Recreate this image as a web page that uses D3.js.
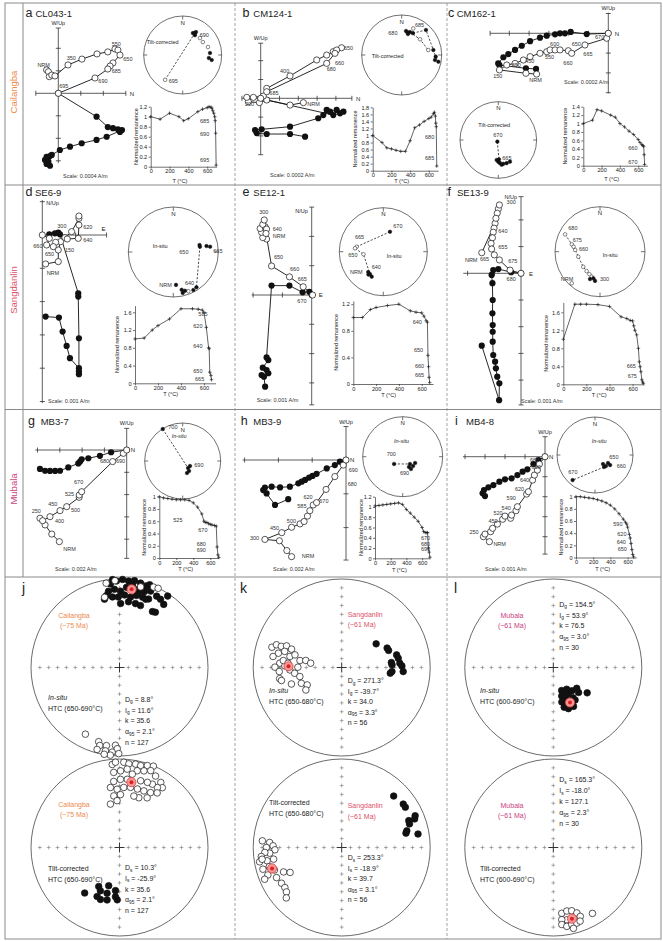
<!DOCTYPE html>
<html>
<head>
<meta charset="utf-8">
<script src="https://cdn.jsdelivr.net/npm/d3@7/dist/d3.min.js"></script>
<style>
html,body{margin:0;padding:0;background:#fff;}
svg{display:block;}
text{font-family:"Liberation Sans",Arial,Helvetica,sans-serif;}
</style>
</head>
<body>
<svg id="fig" width="663" height="941"></svg>
<script>
// ================= DATA =================
const regions = ["Cailangba", "Sangdanlin", "Mubala"];
const regionAges = ["(~75 Ma)", "(~61 Ma)", "(~61 Ma)"];
const sampleNames = ["CL043-1","CM124-1","CM162-1","SE6-9","SE12-1","SE13-9","MB3-7","MB3-9","MB4-8"];
const scaleValues = ["0.0004","0.0002","0.0002","0.001","0.001","0.001","0.002","0.002","0.001"];
const tempTicks = [0, 200, 400, 600];

// --- panel a ---
const aZijOpen = [[-0.52,1.04],[-0.44,0.96],[-0.40,0.74],[-0.29,0.81],[-0.15,0.77],[0.43,1.26],[1.05,1.52],[1.72,1.75],[2.20,1.84],[2.52,1.97],[2.65,1.92],[2.74,1.70],[2.43,1.35],[2.30,1.21],[2.20,1.08],[1.63,0.68],[0,0]];
const aZijFilled = [[-0.37,-3.22],[-0.52,-3.14],[-0.44,-3.04],[-0.59,-2.96],[-0.37,-2.79],[-0.52,-2.82],[-0.29,-2.74],[0.07,-2.52],[0.52,-2.37],[1.04,-2.22],[1.70,-2.07],[2.15,-1.93],[2.83,-1.63],[2.74,-1.72],[2.65,-1.60],[2.43,-1.55],[2.20,-1.50],[1.70,-1.04],[0,0]];
const aZijLbl = [["NRM",-0.93,1.17],["350",0.37,1.48],["550",2.37,2.12],["650",2.89,1.44],["685",2.37,0.90],["690",1.78,0.44],["695",0.04,0.24]];
const aNet = [[25,38],[30,32.5],[31.6,40],[29,36],[45.5,-38],[57.4,-38.5],[72.5,-32.5],[85.8,30.5],[96.5,33],[99.7,25.5],[215.3,-23]];
const aNetLines = [[[29,36],[215.3,-23]]];
const aNetLbl = [["690",17,-18],["695",-14,28]];
const aDemagT = [0,100,200,300,350,400,500,550,600,620,640,650,660,670,680,685,690,695];
const aDemagM = [1.0,0.95,1.07,1.0,0.92,0.96,1.1,1.15,1.18,1.2,1.19,1.17,1.12,1.07,1.0,0.92,0.67,0.03];
const aDemagLbl = [["685",524,0.88],["690",524,0.61],["695",524,0.1]];

// --- panel b ---
const bZijOpen = [[2.27,-0.23],[1.56,-0.36],[0.32,-0.09],[-0.07,-0.23],[-0.66,-0.18],[-0.74,0.05],[-0.39,0.05],[0.14,0.12],[0.32,0.53],[1.56,1.19],[2.98,2.04],[3.51,2.30],[3.86,2.48],[4.30,2.69],[4.04,2.57],[3.95,2.39],[3.51,1.86],[0.32,0.35],[0,0]];
const bZijFilled = [[2.36,-2.04],[1.56,-1.90],[0.32,-1.90],[-0.21,-1.86],[-0.30,-1.69],[0.05,-1.65],[1.56,-1.51],[3.06,-1.06],[3.33,-0.89],[3.51,-0.62],[3.69,-0.71],[4.04,-0.62],[4.40,-0.71],[4.22,-0.80],[3.86,-0.89],[0.32,-0.09],[0,0]];
const bZijLbl = [["400",1.03,1.36],["650",4.43,2.55],["660",3.95,1.79],["680",3.51,1.45],["685",0.46,0.16],["200",-0.84,-0.43],["NRM",2.48,-0.41]];
const bNet = [[10.2,39],[19.8,39],[27.2,38.5],[16.7,44.5],[14,41],[23.5,-28.5],[44.2,14],[49.4,-39.5],[79.4,-33],[81,21],[92.8,16],[98.5,17],[100.4,7.5]];
const bNetLines = [[[19.8,39],[49.4,-39.5],[79.4,-33]],[[27.2,38.5],[44.2,14],[81,21],[92.8,16],[100.4,7.5]]];
const bNetLbl = [["680",-13.4,-20],["685",13.3,-28]];
const bDemagT = [0,100,150,200,250,300,350,400,450,500,550,600,625,650,660,670,675,680,685];
const bDemagM = [1.0,0.8,0.65,0.62,0.58,0.55,0.55,0.85,1.22,1.3,1.4,1.48,1.52,1.62,1.66,1.55,1.35,1.25,0.13];
const bDemagLbl = [["680",560,0.9],["685",560,0.31]];

// --- panel c ---
const cZijOpen = [[-3.62,-2.06],[-4.16,-2.02],[-5.50,-1.85],[-5.13,-1.60],[-4.71,-1.52],[-4.29,-1.35],[-3.95,-1.18],[-3.45,-1.01],[-3.11,-0.93],[-2.94,-0.84],[-2.69,-0.84],[-2.44,-0.84],[-2.02,-0.88],[-1.85,-1.01],[-1.18,-0.59],[-0.08,-0.25],[0,0]];
const cZijFilled = [[-3.65,-1.80],[-4.16,-1.77],[-5.50,-1.60],[-5.56,-1.52],[-5.30,-1.21],[-5.05,-1.05],[-4.71,-0.84],[-4.37,-0.63],[-3.95,-0.40],[-3.45,-0.22],[-3.11,-0.12],[-2.69,-0.05],[-2.44,0],[-2.19,0],[-1.90,0.07],[-1.09,-0.04],[0,0]];
const cZijLbl = [["600",-2.94,-0.64],["650",-1.85,-0.64],["670",-0.67,-0.31],["665",-1.26,-1.15],["660",-2.27,-1.58],["550",-3.20,-1.32],["450",-4.20,-1.50],["350",-4.88,-1.68],["150",-5.81,-2.26],["NRM",-3.99,-2.48]];
const cNet = [[210,86],[180,42.5],[175.8,39.3],[168.2,36.5],[160.2,36],[151.7,36],[184.6,46.5],[172.3,35],[178,48]];
const cNetLines = [[[210,86],[178,48]]];
const cNetLbl = [["670",-5,-3],["665",4,20]];
const cDemagT = [0,100,150,200,300,350,400,450,500,550,600,620,640,650,660,665,670];
const cDemagM = [1.0,1.08,1.33,1.3,1.2,1.15,1.0,0.92,0.82,0.74,0.62,0.55,0.5,0.48,0.46,0.26,0.03];
const cDemagLbl = [["660",492,0.37],["670",492,0.03]];

// --- panel d ---
const dZijOpen = [[0.10,-0.87],[0.48,-0.80],[0.48,-0.45],[0.55,-0.20],[0.68,-0.08],[0.88,0.10],[1.10,0.50],[1.10,0.57],[1.10,0.30],[1.08,-0.10],[0.75,-0.12],[0.40,-0.22],[0.33,-0.35],[0.13,-0.30],[0.21,-0.10],[0,0]];
const dZijFilled = [[0.10,-2.45],[0.50,-2.48],[0.61,-2.90],[0.73,-3.33],[0.83,-3.70],[1.10,-4.00],[1.10,-4.10],[1.10,-4.18],[1.10,-3.10],[1.08,-1.85],[1.08,-1.75],[0.53,0.02],[0.48,0.07],[0.38,0.05],[0.21,0.02]];
const dZijLbl = [["300",0.45,0.20],["620",1.23,0.18],["640",1.23,-0.20],["660",-0.27,-0.38],["650",0.08,-0.63],["150",0.68,-0.52],["NRM",0.13,-1.20]];
const dNet = [[75.2,39.5],[78.8,39.5],[79.8,26],[81.8,18.5],[146.7,7],[152.2,5],[159,-7.5],[163.2,11],[167,7.5],[167.5,15],[175.3,27.5]];
const dNetLines = [[[78.8,39.5],[146.7,7]]];
const dNetLbl = [["650",6,2],["665",40,1],["NRM",-14,35],["640",11.7,33]];
const dDemagT = [0,80,150,200,300,400,500,550,585,600,620,640,645,650,660,665];
const dDemagM = [1.0,1.02,1.2,1.3,1.45,1.68,1.68,1.67,1.65,1.6,1.26,0.8,0.78,0.25,0.18,0.08];
const dDemagLbl = [["585",551,1.52],["620",507,1.24],["640",507,0.8],["650",507,0.23],["665",522,0.05]];

// --- panel e ---
const eZijOpen = [[-1.54,1.91],[-1.67,1.96],[-1.71,2.14],[-1.76,2.27],[-1.59,2.33],[-1.67,2.41],[-1.62,2.56],[-1.54,2.25],[-1.56,2.10],[-1.37,0.99],[-0.76,0.62],[-0.29,0.28],[0.03,0]];
const eZijFilled = [[-1.59,-3.13],[-1.63,-2.79],[-1.71,-2.73],[-1.48,-2.67],[-1.54,-2.56],[-1.67,-2.48],[-1.48,-2.22],[-1.54,-2.13],[-1.37,0.32],[-0.76,0.32],[-0.31,0.09],[-0.08,0.11],[0,0]];
const eZijLbl = [["300",-1.79,2.75],["640",-1.33,2.18],["NRM",-1.33,1.93],["650",-1.29,1.23],["660",-0.74,0.82],["665",-0.48,0.48],["670",-0.49,-0.28]];
const eNet = [[18.5,50.5],[280.6,-38.5],[276.9,-35.5],[262.6,-52.5],[216.5,42],[204.9,37.5],[210.8,40.5],[213,38]];
const eNetLines = [[[18.5,50.5],[280.6,-38.5]],[[276.9,-35.5],[262.6,-52.5],[210.8,40.5]]];
const eNetLbl = [["670",10,-23.7],["665",-28.3,-12.7],["650",-35,5.3],["NRM",-33.3,22.3],["640",-11.6,17.3]];
const eDemagT = [0,80,150,200,300,400,500,550,600,620,640,650,655,660,665,670];
const eDemagM = [1.0,1.0,1.12,1.15,1.18,1.2,1.1,1.08,1.07,1.02,0.95,0.93,0.43,0.26,0.1,0.02];
const eDemagLbl = [["640",521,0.9],["650",532,0.48],["660",541,0.24],["665",541,0.1]];

// --- panel f ---
const fZijOpen = [[-1.47,0.77],[-0.97,1.87],[-0.85,2.41],[-0.81,2.56],[-0.89,2.25],[-0.94,2.06],[-1.01,1.69],[-1.04,1.54],[-1.07,1.33],[-1.12,1.12],[-1.10,0.91],[-1.00,0.69],[-0.81,0.50],[-0.41,0.12],[0,0]];
const fZijFilled = [[-1.47,-2.71],[-0.82,-4.75],[-0.81,-4.12],[-0.89,-3.87],[-0.94,-3.56],[-0.97,-3.31],[-1.04,-3.06],[-1.06,-2.56],[-1.06,-2.19],[-1.06,-1.94],[-1.07,-1.50],[-1.06,-1.00],[-1.07,-0.37],[-1.10,-0.06],[-1.04,0.12],[-0.85,0.16],[-0.37,0.04],[0,0]];
const fZijLbl = [["300",-0.54,2.58],["640",-0.85,1.50],["655",-0.85,0.90],["NRM",-2.10,0.43],["665",-1.54,0.46],["675",-0.48,0.40],["680",-0.54,-0.28]];
const fNet = [[296.4,-14.5],[284.7,-35.5],[280.6,-40],[273.9,-44],[257,-49],[228,-48.5],[214.6,-46.5],[205.3,-44],[198.4,-41],[194,39],[189.7,34.5],[200,35.5],[221.8,-6.5]];
const fNetLines = [[[296.4,-14.5],[284.7,-35.5],[273.9,-44],[257,-49],[228,-48.5],[214.6,-46.5],[205.3,-44],[198.4,-41],[194,39]]];
const fNetLbl = [["680",-31.7,-21.7],["675",-27.3,-10],["660",-21,-0.7],["NRM",-39.3,29.3],["300",0,29.3]];
const fDemagT = [0,100,150,200,300,400,500,550,580,600,610,620,635,650,658,665,672,680,687,693];
const fDemagM = [1.0,1.78,1.78,1.78,1.77,1.73,1.5,1.46,1.42,1.41,1.3,1.2,1.1,0.8,0.5,0.39,0.28,0.1,0.05,0.02];
const fDemagLbl = [["665",549,0.36],["675",558,0.15]];

// --- panel g ---
const gZijOpen = [[-3.02,-4.11],[-3.36,-3.77],[-3.66,-3.36],[-3.89,-3.06],[-3.77,-3.17],[-3.44,-2.99],[-2.99,-2.72],[-2.69,-2.54],[-2.13,-2.12],[-2.13,-2.02],[-2.02,-1.87],[-0.63,-0.52],[-0.15,-0.15],[0,0]];
const gZijFilled = [[-3.89,-0.85],[-3.66,-0.93],[-3.44,-0.94],[-3.21,-0.94],[-2.99,-0.93],[-2.62,-0.78],[-2.17,-0.60],[-2.09,-0.52],[-2.02,-0.42],[-1.72,-0.37],[-1.20,-0.26],[-0.70,-0.10],[0,0]];
const gZijLbl = [["680",-1.20,-0.60],["690",-0.48,-0.60],["670",-2.36,-1.54],["525",-2.77,-2.06],["500",-2.50,-2.77],["450",-3.52,-2.51],["400",-3.22,-3.26],["250",-4.26,-2.81],["NRM",-2.84,-4.52]];
const gNet = [[328,1],[142.9,71],[147.8,64.5],[160.3,62.5],[124.4,71]];
const gNetLines = [[[328,1],[142.9,71]]];
const gNetLbl = [["700",-14.4,-31.7],["690",11.6,6.3]];
const gDemagT = [0,50,100,150,200,250,300,350,400,450,500,525,540,560,580,600,620,650,670,680,690,700];
const gDemagM = [1.0,0.98,0.97,0.96,0.95,0.95,0.95,0.94,0.9,0.83,0.72,0.6,0.58,0.58,0.56,0.55,0.54,0.53,0.52,0.18,0.05,0.01];
const gDemagLbl = [["525",165,0.59],["670",459,0.42],["680",440,0.19],["690",440,0.1]];

// --- panel h ---
const hZijOpen = [[-1.61,-2.86],[-1.75,-2.68],[-1.97,-2.39],[-2.40,-2.35],[-1.90,-2.15],[-1.61,-1.99],[-1.36,-1.89],[-1.24,-1.82],[-1.14,-1.66],[-1.07,-1.50],[-0.97,-1.33],[-0.87,-1.26],[-0.59,-0.87],[-0.33,-0.49],[-0.08,-0.15],[0,0]];
const hZijFilled = [[-1.71,-1.16],[-2.10,-1.33],[-2.35,-0.99],[-2.45,-0.89],[-2.40,-0.82],[-2.20,-0.79],[-1.95,-0.81],[-1.66,-0.79],[-1.41,-0.69],[-1.31,-0.64],[-1.21,-0.59],[-1.09,-0.52],[-0.99,-0.47],[-0.87,-0.41],[-0.57,-0.25],[-0.33,-0.15],[-0.18,-0.05],[0,0]];
const hZijLbl = [["690",0.08,-0.36],["680",0.05,-0.76],["670",-0.79,-1.28],["620",-1.26,-1.16],["585",-1.44,-1.43],["500",-1.75,-1.87],["450",-2.25,-2.07],["300",-2.84,-2.37],["NRM",-1.31,-2.91]];
const hNet = [[230,67],[135,69],[132,61.5],[146,59.5],[117,61.5],[148.5,65.5]];
const hNetLines = [[[230,67],[135,69]]];
const hNetLbl = [["700",-16,-1],["690",-2.7,18.3]];
const hDemagT = [0,50,100,150,200,250,300,350,400,450,500,550,600,620,640,660,670,680,690,700];
const hDemagM = [1.02,1.03,1.04,1.05,1.06,1.07,1.08,1.05,0.95,0.88,0.8,0.72,0.6,0.52,0.5,0.5,0.5,0.2,0.12,0.02];
const hDemagLbl = [["670",586,0.36],["680",586,0.24],["690",586,0.15]];

// --- panel i ---
const iZijOpen = [[-2.78,-4.25],[-3.08,-4.00],[-3.00,-3.87],[-2.72,-3.75],[-2.62,-3.58],[-2.38,-3.37],[-2.12,-3.13],[-2.00,-2.97],[-1.72,-3.08],[-1.67,-2.92],[-1.45,-2.70],[-1.38,-2.50],[-0.92,-1.87],[-0.83,-1.75],[-0.62,-1.17],[-0.53,-0.92],[-0.38,-0.67],[-0.28,-0.37],[0,0]];
const iZijFilled = [[-3.00,-1.97],[-3.12,-1.83],[-3.05,-1.67],[-2.83,-1.53],[-2.58,-1.42],[-2.28,-1.25],[-2.00,-1.13],[-1.67,-1.08],[-1.38,-0.92],[-1.12,-0.75],[-0.88,-0.63],[-0.58,-0.37],[-0.33,-0.17],[0,0]];
const iZijLbl = [["660",-0.75,-0.28],["650",-0.67,-0.63],["640",-1.25,-1.25],["620",-1.50,-1.72],["590",-1.92,-2.17],["540",-2.17,-2.67],["520",-2.58,-2.92],["450",-2.83,-3.33],["250",-3.78,-3.87],["NRM",-2.58,-4.45]];
const iNet = [[138.4,64],[135,56.5],[143,57.5],[121.6,57],[123.7,50.5],[221.7,12.5]];
const iNetLines = [[[143,57.5],[221.7,12.5]]];
const iNetLbl = [["650",14.3,4.3],["660",21.7,13.3],["670",-26.7,19]];
const iDemagT = [0,50,100,150,200,250,300,350,400,450,500,550,575,590,600,620,630,640,650,660,670];
const iDemagM = [1.0,1.0,0.99,0.98,0.97,0.95,0.93,0.9,0.86,0.8,0.72,0.63,0.58,0.55,0.5,0.38,0.32,0.23,0.13,0.05,0.01];
const iDemagLbl = [["590",434,0.51],["620",480,0.35],["640",473,0.23],["650",485,0.11]];

// --- site-mean stereonets (dec, inc); inc >= 0 lower hemisphere (filled) ---
const jInSitu = [[353.8,5.6],[358,2.5],[2,0.5],[6,2],[9.8,0.5],[14,2],[18.4,3.5],[351.8,14],[356.3,12.5],[0.8,15],[5,10],[9,6.5],[13.7,10],[18.2,10.5],[22.2,7.5],[27.5,10],[354.3,21],[359,21.5],[4,19],[9,20.5],[13.3,17.5],[18.2,17.5],[23,17],[1,28.5],[7.8,26],[14,26.5],[18.7,27],[30.5,27.5],[33,26.5],[35,14],[34,3],[347.6,22],[31,11],[355.5,0.5],[20,0.5],[21,18.5],[14.4,14.5],[349.8,18.5],
  [351,-4],[357,-2],[14.7,-6.5],[23,-1.5],[348,-20],[26,-0.5],
  [207.1,-16.5],[195.7,-14],[194.2,-10],[195.3,-4.5],[189.5,-11.5],[183,-13],[181.6,-9],[189.6,-5],[185,-4.5],[186,-0.5],[180.5,-3],[190,-0.5]];
const jTilt = [[355,-6.5],[357.3,-4],[2.9,-4],[6.4,-5.5],[10.9,-4.5],[14.5,-5],[18.8,-2.5],[22.6,-0.5],[26.8,-10.5],[5.6,-12],[0.8,-14.5],[355.6,-16],[13,-12],[17.7,-10],[22.1,-7],[32.4,-14],[35.6,-18],[32.3,-21],[27.4,-20.5],[23.2,-21],[17.6,-22],[6.5,-23.5],[0.8,-24],[355,-26],[351.4,-32],[357.7,-34.5],[4.1,-32.5],[10.4,-31.5],[17,-31.5],[23.3,-31],[29.5,-29.5],[34.6,-26],[29.1,-36],[21.2,-39.5],[15.6,-39.5],[1,-40],[353.7,-41],[357,-46],[348.2,-48.5],[9.9,-17],
  [217.4,35.5],[208.1,48.7],[203.8,45.5],[204.6,39],[195.8,53],[185.3,49.5],[195.2,45.5],[193.3,39],[184.7,43.5],[182.5,40.5],[200.1,37.5]];
const kInSitu = [[286.2,-19],[289.2,-23],[289.3,-28.5],[291.4,-33.5],[290.1,-39.5],[285.8,-33.5],[282.7,-27.5],[279.1,-22.5],[282,-40],[285.1,-44.5],[279.5,-50.5],[281.1,-56],[277.9,-61],[274,-30.5],[271.6,-36],[270.3,-25.5],[270.4,-49],[267.3,-41],[263,-45.5],[259.8,-29.5],[257.8,-31],[257.8,-50],[248.6,-49.5],[243.2,-54],[251.8,-40],[237.9,-50.5],[276.8,-34],[274.6,-39],[266.3,-30],
  [55.5,51],[66.8,43.5],[70,43],[77.1,36.5],[80.7,35.5],[84.2,43],[87,42.5],[85.8,34.5],[88.5,32.5],[96.7,44],[94.6,42.5],[93.8,31]];
const kTilt = [[274.8,-11],[274,-19.5],[271.4,-23.5],[270,-16],[268,-25.5],[265.5,-19.5],[266.3,-14],[263.6,-9.5],[260.1,-6.5],[259.9,-15.5],[260.3,-23],[255.2,-16.5],[254.6,-8.5],[251.5,-21],[247.2,-29.5],[244.2,-35.5],[249.6,-12],[245.2,-20],[247.6,-6.5],[239.3,-22],[234.8,-22.5],[231.2,-21],[227.7,-16.5],[261.6,-10],
  [45.3,18.5],[54.8,16],[57.7,16],[66.6,10.5],[68.6,12.5],[68.2,19.5],[70.8,20],[75.6,25],[77.4,26.5],[80,13.5]];
const lInSitu = [[160,67.5],[148.3,66.5],[141.3,62.5],[131.5,61],[134.7,57],[126.8,50.5],[163.5,62.5],[157.5,59],[146.8,56.5],[146.2,53.5],[166.1,57],[162.2,54],[155.4,52],[152.5,49],[164.7,51.5],[159.8,49],[158.7,64.5],[150.4,62]];
const lTilt = [[172.7,-26],[168,-27.5],[163.8,-26.5],[160.2,-22.5],[158.6,-17.5],[169.4,-18],[173.3,-19],[173.7,-13.5],[170.3,-10.5],[166.5,-11.5],[162.7,-11.5],[160,-12.5],[166,-6.5],[149.3,-14.5]];

// site means and statistics [D, I, k, a95, n]
const jInSituStats = [8.8, 11.6, 35.6, 2.1, 127];
const jTiltStats = [10.3, -25.9, 35.6, 2.1, 127];
const kInSituStats = [271.3, -39.7, 34.0, 3.3, 56];
const kTiltStats = [253.3, -18.9, 39.7, 3.1, 56];
const lInSituStats = [154.5, 53.9, 76.5, 3.0, 30];
const lTiltStats = [165.3, -18.0, 127.1, 2.3, 30];
const htcRanges = ["650-690", "650-680", "600-690"];

// ================= LAYOUT =================
const svg = d3.select("#fig");
const INK = "#222";
const regionColors = ["#ec8a4e", "#e0506a", "#c8437e"];
const deg = Math.PI / 180;
function proj(d) { // equal-area (Schmidt) projection to unit disc
  const r = Math.SQRT2 * Math.sin((90 - Math.abs(d[1])) / 2 * deg);
  return [r * Math.sin(d[0] * deg), r * Math.cos(d[0] * deg)];
}
function tx(g, x, y, s, size, o = {}) {
  const t = g.append("text").attr("x", x).attr("y", y).attr("font-size", size).attr("fill", o.fill || INK).text(s);
  if (o.anchor) t.attr("text-anchor", o.anchor);
  if (o.italic) t.attr("font-style", "italic");
  return t;
}

const panels = [
  {id:"a", open:aZijOpen, filled:aZijFilled, zl:aZijLbl, net:aNet, nl:aNetLines, nlab:aNetLbl, T:aDemagT, M:aDemagM, dl:aDemagLbl,
   title:[25.5,16.5,35.5], zij:{ox:58.3,oy:93.3,unit:22.5,h:[-1,3],v:[-3.1,2.9],hl:"N",vl:"W/Up",vp:"top"},
   sc:[63,177.5], N:{cx:182.7,cy:55,R:39,label:"Tilt-corrected",it:false,lx:-36,ly:-11},
   D:{x0:150.7,p:18.83,y0:166.7,yTop:106.7,yMax:1.2,ticks:[0,0.2,0.4,0.6,0.8,1,1.2],ylx:13,tl:16.5}},
  {id:"b", open:bZijOpen, filled:bZijFilled, zl:bZijLbl, net:bNet, nl:bNetLines, nlab:bNetLbl, T:bDemagT, M:bDemagM, dl:bDemagLbl,
   title:[242.5,16.5,253.3], zij:{ox:260.7,oy:98.3,unit:18.8,h:[-1,4.85],v:[-3,2.93],hl:"N",vl:"W/Up",vp:"top"},
   sc:[270,176.5], N:{cx:401.7,cy:55,R:40,label:"Tilt-corrected",it:false,lx:-30,ly:3},
   D:{x0:372.7,p:18.7,y0:170.7,yTop:107.3,yMax:1.8,ticks:[0,0.2,0.4,0.6,0.8,1,1.2,1.4,1.6,1.8],ylx:16,tl:12.3}},
  {id:"c", open:cZijOpen, filled:cZijFilled, zl:cZijLbl, net:cNet, nl:cNetLines, nlab:cNetLbl, T:cDemagT, M:cDemagM, dl:cDemagLbl,
   title:[448,16.5,456.7], zij:{ox:608.3,oy:33.3,unit:19.8,h:[-5.97,0.12],v:[-3.03,1.04],hl:"N",vl:"W/Up",vp:"top"},
   sc:[564,84], N:{cx:498.3,cy:140,R:38.3,label:"Tilt-corrected",it:false,lx:-20,ly:-13.3},
   D:{x0:583.3,p:18.3,y0:165.7,yTop:106.7,yMax:1.4,ticks:[0,0.2,0.4,0.6,0.8,1,1.2,1.4],ylx:16,tl:15.5}},
  {id:"d", open:dZijOpen, filled:dZijFilled, zl:dZijLbl, net:dNet, nl:dNetLines, nlab:dNetLbl, T:dDemagT, M:dDemagM, dl:dDemagLbl,
   title:[25.5,196,35], zij:{ox:42.3,oy:235,unit:33.3,h:[0,1.93],v:[-5.05,1.05],hl:"E",vl:"N/Up",vp:"right",hp:"above"},
   sc:[48,403], N:{cx:173.3,cy:252,R:45,label:"In-situ",it:false,lx:-20.6,ly:-4},
   D:{x0:135,p:23,y0:383.3,yTop:312.3,yMax:1.6,top:1.75,ticks:[0,0.4,0.8,1.2,1.6],ylx:16,tl:13}},
  {id:"e", open:eZijOpen, filled:eZijFilled, zl:eZijLbl, net:eNet, nl:eNetLines, nlab:eNetLbl, T:eDemagT, M:eDemagM, dl:eDemagLbl,
   title:[242.5,196,253.3], zij:{ox:311.7,oy:295,unit:29.3,h:[-2.05,0.1],v:[-3.75,3.0],hl:"E",vl:"N/Up",vp:"left",vdy:5.5},
   sc:[256.7,401.5], N:{cx:383.3,cy:251.7,R:44,label:"In-situ",it:false,lx:3.4,ly:6},
   D:{x0:353.3,p:22.8,y0:384,yTop:304.2,yMax:1.2,top:1.25,ticks:[0,0.4,0.8,1.2],ylx:15,tl:13}},
  {id:"f", open:fZijOpen, filled:fZijFilled, zl:fZijLbl, net:fNet, nl:fNetLines, nlab:fNetLbl, T:fDemagT, M:fDemagM, dl:fDemagLbl,
   title:[447.5,196,457], zij:{ox:521,oy:273.3,unit:26.7,h:[-2.16,0],v:[-4.93,2.87],hl:"E",vl:"N/Up",vp:"left",vdy:2.5,hx:8},
   sc:[521,403], N:{cx:600,cy:251.7,R:45,label:"In-situ",it:false,lx:2.7,ly:5.6},
   D:{x0:563.3,p:23.1,y0:384.3,yTop:312.3,yMax:1.6,top:1.82,ticks:[0,0.4,0.8,1.2,1.6],ylx:15,tl:13}},
  {id:"g", open:gZijOpen, filled:gZijFilled, zl:gZijLbl, net:gNet, nl:gNetLines, nlab:gNetLbl, T:gDemagT, M:gDemagM, dl:gDemagLbl,
   title:[28,425,40.7], zij:{ox:126.7,oy:450,unit:22.3,h:[-4.1,0],v:[-4.86,0.97],hl:"N",vl:"W/Up",vp:"top"},
   sc:[55,571], N:{cx:182.7,cy:461,R:38,label:"In-situ",it:true,lx:-11,ly:-23},
   D:{x0:159.3,p:17,y0:558,yTop:496.7,yMax:1,ticks:[0,0.2,0.4,0.6,0.8,1],ylx:13,tl:13.3}},
  {id:"h", open:hZijOpen, filled:hZijFilled, zl:hZijLbl, net:hNet, nl:hNetLines, nlab:hNetLbl, T:hDemagT, M:hDemagM, dl:hDemagLbl,
   title:[240.7,425,253.3], zij:{ox:346,oy:460,unit:33.8,h:[-3.06,0],v:[-2.96,0.99],hl:"N",vl:"W/Up",vp:"top"},
   sc:[273,571], N:{cx:402.7,cy:456.7,R:40,label:"In-situ",it:true,lx:-8.7,ly:-13.4},
   D:{x0:375,p:15.7,y0:558.3,yTop:496.7,yMax:1.2,ticks:[0,0.2,0.4,0.6,0.8,1,1.2],ylx:12,tl:13.3}},
  {id:"i", open:iZijOpen, filled:iZijFilled, zl:iZijLbl, net:iNet, nl:iNetLines, nlab:iNetLbl, T:iDemagT, M:iDemagM, dl:iDemagLbl,
   title:[455,425,466], zij:{ox:545,oy:456.7,unit:20,h:[-4.1,0],v:[-4.87,1.0],hl:"N",vl:"W/Up",vp:"top"},
   sc:[485,571], N:{cx:595,cy:455,R:38,label:"In-situ",it:true,lx:-3.3,ly:-11.7},
   D:{x0:576,p:17.2,y0:557.5,yTop:496.7,yMax:1,ticks:[0,0.2,0.4,0.6,0.8,1],ylx:13,tl:13.3}}
];

// ---------- frame ----------
const frame = svg.append("g").attr("stroke", "#8a8a8a").attr("fill", "none");
frame.append("rect").attr("x", 5).attr("y", 3).attr("width", 656).attr("height", 936).attr("stroke-width", 1);
[185, 409.5, 577].forEach(yy => frame.append("line").attr("x1", 5).attr("x2", 661).attr("y1", yy).attr("y2", yy).attr("stroke-width", 1));
frame.append("line").attr("x1", 23).attr("x2", 23).attr("y1", 3).attr("y2", 577);
[235, 447].forEach(xx => frame.append("line").attr("x1", xx).attr("x2", xx).attr("y1", 3).attr("y2", 939).attr("stroke-dasharray", "3,2").attr("stroke-width", 0.8));
const rowMid = [92, 290, 489];
regions.forEach((r, i) => {
  tx(svg, 0, 0, r, 9.5, {fill: regionColors[i], anchor: "middle"}).attr("transform", `translate(16.5,${rowMid[i]}) rotate(-90)`);
});

// ---------- Zijderveld ----------
function drawZij(p) {
  const L = p.zij, g = svg.append("g");
  const x = d3.scaleLinear().domain([0, 1]).range([L.ox, L.ox + L.unit]);
  const y = d3.scaleLinear().domain([0, 1]).range([L.oy, L.oy - L.unit]);
  const st = s => s.attr("stroke", "#333").attr("stroke-width", 0.8);
  st(g.append("line").attr("x1", x(L.h[0])).attr("x2", x(L.h[1])).attr("y1", y(0)).attr("y2", y(0)));
  st(g.append("line").attr("x1", x(0)).attr("x2", x(0)).attr("y1", y(L.v[0])).attr("y2", y(L.v[1])));
  const tk = a => d3.range(Math.round(a[0]), Math.round(a[1]) + 1).filter(k => k !== 0).map(k => Math.max(a[0], Math.min(a[1], k)));
  tk(L.h).forEach(k => st(g.append("line").attr("x1", x(k)).attr("x2", x(k)).attr("y1", y(0) - 2.5).attr("y2", y(0) + 2.5)));
  tk(L.v).forEach(k => st(g.append("line").attr("x1", x(0) - 2.5).attr("x2", x(0) + 2.5).attr("y1", y(k)).attr("y2", y(k))));
  if (L.hp === "above") tx(g, x(L.h[1]) - 1, y(0) - 4, L.hl, 6, {anchor: "end"});
  else tx(g, x(L.h[1]) + (L.hx || 4), y(0) + 2.2, L.hl, 6);
  if (L.vp === "top") tx(g, x(0), y(L.v[1]) - 3, L.vl, 5.5, {anchor: "middle"});
  else if (L.vp === "right") tx(g, x(0) + 4, y(L.v[1]) + 5, L.vl, 5.5);
  else tx(g, x(0) - 4, y(L.v[1]) + (L.vdy || 5), L.vl, 5.5, {anchor: "end"});
  const line = d3.line().x(d => x(d[0])).y(d => y(d[1]));
  g.append("path").attr("d", line(p.filled)).attr("fill", "none").attr("stroke", "#111").attr("stroke-width", 0.9);
  g.append("path").attr("d", line(p.open)).attr("fill", "none").attr("stroke", "#111").attr("stroke-width", 0.9);
  g.selectAll(null).data(p.filled).join("circle").attr("cx", d => x(d[0])).attr("cy", d => y(d[1])).attr("r", 3.1).attr("fill", "#111");
  g.selectAll(null).data(p.open).join("circle").attr("cx", d => x(d[0])).attr("cy", d => y(d[1])).attr("r", 3.1).attr("fill", "#fff").attr("stroke", "#111").attr("stroke-width", 0.7);
  p.zl.forEach(d => tx(g, x(d[1]), y(d[2]), d[0], 5.5, {fill: "#333"}));
}

// ---------- small stereonet ----------
function drawNet(p) {
  const N = p.N, g = svg.append("g");
  const sx = d3.scaleLinear().domain([-1, 1]).range([N.cx - N.R, N.cx + N.R]);
  const sy = d3.scaleLinear().domain([-1, 1]).range([N.cy + N.R, N.cy - N.R]);
  g.append("circle").attr("cx", sx(0)).attr("cy", sy(0)).attr("r", N.R).attr("fill", "none").attr("stroke", "#333").attr("stroke-width", 0.7);
  [[0, 1], [1, 0], [0, -1], [-1, 0]].forEach(([a, b]) => g.append("line").attr("x1", sx(a)).attr("y1", sy(b)).attr("x2", sx(a * 0.91)).attr("y2", sy(b * 0.91)).attr("stroke", "#333").attr("stroke-width", 0.7));
  tx(g, sx(0), sy(1) + 8.5, "N", 6, {anchor: "middle"});
  tx(g, N.cx + N.lx, N.cy + N.ly, N.label, 5.5, {italic: N.it});
  const line = d3.line().x(d => sx(proj(d)[0])).y(d => sy(proj(d)[1]));
  p.nl.forEach(l => g.append("path").attr("d", line(l)).attr("fill", "none").attr("stroke", "#222").attr("stroke-width", 0.8).attr("stroke-dasharray", "2.2,1.6"));
  g.selectAll(null).data(p.net).join("circle").attr("cx", d => sx(proj(d)[0])).attr("cy", d => sy(proj(d)[1])).attr("r", 1.8)
    .attr("fill", d => d[1] >= 0 ? "#111" : "#fff").attr("stroke", "#111").attr("stroke-width", 0.5);
  p.nlab.forEach(d => tx(g, N.cx + d[1], N.cy + d[2], d[0], 5.5, {fill: "#333"}));
}

// ---------- demagnetization curve ----------
function drawDemag(p) {
  const D = p.D, g = svg.append("g");
  const x = d3.scaleLinear().domain([0, 700]).range([D.x0, D.x0 + 3.5 * D.p]);
  const y0 = d3.scaleLinear().domain([0, D.yMax]).range([D.y0, D.yTop]);
  const top = D.top || D.yMax;
  const y = d3.scaleLinear().domain([0, top]).range([D.y0, y0(top)]);
  const xa = g.append("g").attr("transform", `translate(0,${D.y0})`).call(d3.axisBottom(x).tickValues(tempTicks).tickSize(2).tickSizeOuter(0).tickPadding(0.8));
  const ya = g.append("g").attr("transform", `translate(${D.x0},0)`).call(d3.axisLeft(y).tickValues(D.ticks).tickFormat(d3.format("~g")).tickSize(2).tickSizeOuter(0).tickPadding(1.5));
  [xa, ya].forEach(a => { a.attr("font-size", 5.6).attr("font-family", null); a.selectAll("path,line").attr("stroke", "#333").attr("stroke-width", 0.7); a.selectAll("text").attr("fill", INK); });
  const pts = p.T.map((t, i) => [t, p.M[i]]);
  g.append("path").attr("d", d3.line().x(d => x(d[0])).y(d => y(d[1]))(pts)).attr("fill", "none").attr("stroke", "#222").attr("stroke-width", 0.7);
  g.selectAll(null).data(pts).join("path")
    .attr("d", d => `M${x(d[0]) - 1.8},${y(d[1])}H${x(d[0]) + 1.8}M${x(d[0])},${y(d[1]) - 1.8}V${y(d[1]) + 1.8}`)
    .attr("stroke", "#111").attr("stroke-width", 0.6);
  p.dl.forEach(d => tx(g, x(d[1]), y(d[2]), d[0], 5.5, {fill: "#333"}));
  tx(g, x(310), D.y0 + D.tl, "T (°C)", 5.6, {anchor: "middle"});
  tx(g, 0, 0, "Normalized remanence", 5.5, {anchor: "middle"}).attr("transform", `translate(${D.x0 - D.ylx},${(D.y0 + y(top)) / 2}) rotate(-90)`);
}

panels.forEach((p, i) => {
  tx(svg, p.title[0], p.title[1], p.id, 12.5);
  tx(svg, p.title[2], p.title[1], sampleNames[i], 9.5);
  drawZij(p);
  drawNet(p);
  drawDemag(p);
  tx(svg, p.sc[0], p.sc[1], "Scale: " + scaleValues[i] + " A/m", 5.5, {fill: "#333"});
});

// ---------- site-mean equal-area nets ----------
function drawBig(cfg, dirs, stats, region, mode, htc) {
  const g = svg.append("g");
  const sx = d3.scaleLinear().domain([-1, 1]).range([cfg.cx - cfg.R, cfg.cx + cfg.R]);
  const sy = d3.scaleLinear().domain([-1, 1]).range([cfg.cy + cfg.R, cfg.cy - cfg.R]);
  g.append("circle").attr("cx", sx(0)).attr("cy", sy(0)).attr("r", cfg.R).attr("fill", "none").attr("stroke", "#444").attr("stroke-width", 0.8);
  const plus = (px, py, s, w, c) => g.append("path").attr("d", `M${px - s},${py}H${px + s}M${px},${py - s}V${py + s}`).attr("stroke", c).attr("stroke-width", w);
  d3.range(1, 10).map(k => k / 10).forEach(r => {
    plus(sx(r), sy(0), 1.9, 0.6, "#777"); plus(sx(-r), sy(0), 1.9, 0.6, "#777");
    plus(sx(0), sy(r), 1.9, 0.6, "#777"); plus(sx(0), sy(-r), 1.9, 0.6, "#777");
  });
  plus(sx(0), sy(0), 5, 1, "#333");
  g.selectAll(null).data(dirs).join("circle").attr("cx", d => sx(proj(d)[0])).attr("cy", d => sy(proj(d)[1])).attr("r", 3.3)
    .attr("fill", d => d[1] >= 0 ? "#111" : "#fff").attr("stroke", "#111").attr("stroke-width", 0.7);
  const m = proj([stats[0], stats[1]]);
  g.append("circle").attr("cx", sx(m[0])).attr("cy", sy(m[1])).attr("r", 4.6).attr("fill", "#f29a9a").attr("stroke", "#e23b3b").attr("stroke-width", 0.8);
  g.append("circle").attr("cx", sx(m[0])).attr("cy", sy(m[1])).attr("r", 2).attr("fill", "#e02020");
  tx(g, cfg.rx, cfg.ry, regions[region], 7, {fill: regionColors[region], anchor: cfg.ra});
  tx(g, cfg.rx, cfg.ry + 10.5, regionAges[region], 7, {fill: regionColors[region], anchor: cfg.ra});
  tx(g, cfg.mx, cfg.my, mode, 7, {italic: mode === "In-situ"});
  tx(g, cfg.mx, cfg.my + 10.8, "HTC (" + htc + "°C)", 7);
  const sub = mode === "In-situ" ? "g" : "s";
  const rows = [["D", sub, " = " + stats[0].toFixed(1) + "°"], ["I", sub, " = " + stats[1].toFixed(1) + "°"],
                ["k", "", " = " + stats[2].toFixed(1)], ["α", "95", " = " + stats[3].toFixed(1) + "°"], ["n", "", " = " + stats[4]]];
  rows.forEach((r, i) => {
    const t = g.append("text").attr("x", cfg.sx).attr("y", cfg.sy + i * cfg.step).attr("font-size", 7).attr("fill", INK);
    t.append("tspan").text(r[0]);
    if (r[1]) { t.append("tspan").attr("font-size", 4.8).attr("dy", 1.6).text(r[1]); t.append("tspan").attr("dy", -1.6).text(r[2]); }
    else t.append("tspan").text(r[2]);
  });
}
const bigR = 88.5, topCy = 667.5, botCy = 847.5;
drawBig({cx:119.5, cy:topCy, R:bigR, rx:74, ry:617.7, ra:"middle", mx:48, my:700, sx:125, sy:701.7, step:10.8}, jInSitu, jInSituStats, 0, "In-situ", htcRanges[0]);
drawBig({cx:119.5, cy:botCy, R:bigR, rx:74, ry:806.7, ra:"middle", mx:48, my:871, sx:125, sy:870, step:10.8}, jTilt, jTiltStats, 0, "Tilt-corrected", htcRanges[0]);
drawBig({cx:341.7, cy:topCy, R:bigR, rx:347.7, ry:616.7, ra:"start", mx:269, my:693.3, sx:347.7, sy:683.3, step:10.5}, kInSitu, kInSituStats, 1, "In-situ", htcRanges[1]);
drawBig({cx:341.7, cy:botCy, R:bigR, rx:347.7, ry:808.3, ra:"start", mx:269, my:805, sx:347.7, sy:860, step:10.6}, kTilt, kTiltStats, 1, "Tilt-corrected", htcRanges[1]);
drawBig({cx:553.3, cy:topCy, R:bigR, rx:512, ry:617.7, ra:"middle", mx:480, my:693.3, sx:559.3, sy:606.7, step:10.8}, lInSitu, lInSituStats, 2, "In-situ", htcRanges[2]);
drawBig({cx:553.3, cy:botCy, R:bigR, rx:512, ry:807.7, ra:"middle", mx:480, my:871, sx:559.3, sy:782.3, step:11}, lTilt, lTiltStats, 2, "Tilt-corrected", htcRanges[2]);
tx(svg, 22, 593, "j", 14);
tx(svg, 240, 593, "k", 14);
tx(svg, 454, 593, "l", 14);
</script>
</body>
</html>
